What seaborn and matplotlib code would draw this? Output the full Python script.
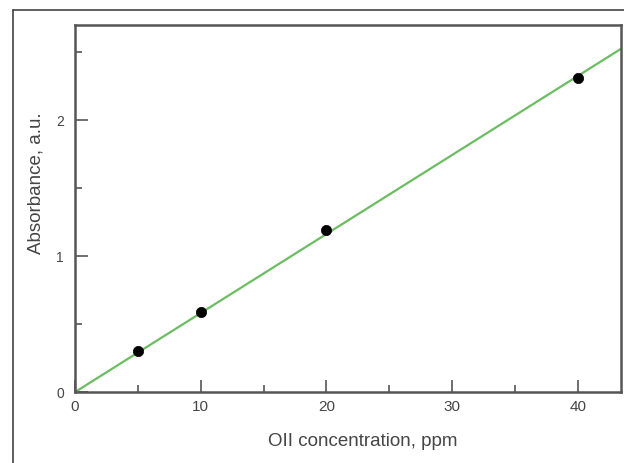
import numpy as np
import pandas as pd
import matplotlib
matplotlib.use("Agg")
import matplotlib.pyplot as plt
from matplotlib.ticker import MultipleLocator
from matplotlib.lines import Line2D
import seaborn as sns

# Calibration measurements
concentration_ppm = [5, 10, 20, 40]
absorbance = [0.30, 0.59, 1.19, 2.31]

x_ticks = [0, 10, 20, 30, 40]
y_ticks = [0, 1, 2]

sns.set_theme(style="white")
plt.rcParams["font.family"] = ["Liberation Sans", "DejaVu Sans"]

text_color = "#454545"
spine_color = "#555555"

fig = plt.figure(figsize=(6.24, 4.63), dpi=100)
ax = fig.add_axes([0.120, 0.153, 0.875, 0.793])

# Least-squares line through the origin
x_arr = np.array(concentration_ppm, dtype=float)
y_arr = np.array(absorbance, dtype=float)
slope = np.sum(x_arr * y_arr) / np.sum(x_arr ** 2)
x_max = 43.4
fit = pd.DataFrame({"x": [0.0, x_max], "y": [0.0, slope * x_max]})
sns.lineplot(data=fit, x="x", y="y", ax=ax, color="#6cbd62", linewidth=1.6, zorder=2)

pts = pd.DataFrame({"x": concentration_ppm, "y": absorbance})
sns.scatterplot(data=pts, x="x", y="y", ax=ax, color="black", s=55,
                edgecolor="black", linewidth=0.5, zorder=3)

ax.set_xlim(0, x_max)
ax.set_ylim(0, 2.7)
ax.set_xticks(x_ticks)
ax.set_yticks(y_ticks)
ax.xaxis.set_minor_locator(MultipleLocator(5))
ax.yaxis.set_minor_locator(MultipleLocator(0.5))
ax.tick_params(which="major", direction="in", length=9, width=1.2, color=spine_color,
               labelcolor=text_color)
ax.tick_params(axis="x", which="major", pad=6, labelsize=11)
ax.tick_params(axis="y", which="major", pad=8, labelsize=10)
ax.tick_params(which="minor", direction="in", length=5, width=1.2, color=spine_color)
ax.tick_params(axis="x", which="both", bottom=True)
ax.tick_params(axis="y", which="both", left=True)

for side in ax.spines.values():
    side.set_color(spine_color)
    side.set_linewidth(1.8)

ax.set_xlabel("")
ax.set_ylabel("")
fig.text(0.581, 0.046, "OII concentration, ppm", fontsize=13.5, color=text_color,
         ha="center", va="center")
fig.text(0.058, 0.605, "Absorbance, a.u.", fontsize=13.5, color=text_color,
         ha="center", va="center", rotation=90)

# Outer frame around the figure
frame_kw = dict(color="#444444", linewidth=1.2, transform=fig.transFigure)
fig.add_artist(Line2D([0.021, 0.021], [0.0, 0.978], **frame_kw))
fig.add_artist(Line2D([0.021, 1.0], [0.978, 0.978], **frame_kw))

fig.savefig("out.png", dpi=100, facecolor="white")
